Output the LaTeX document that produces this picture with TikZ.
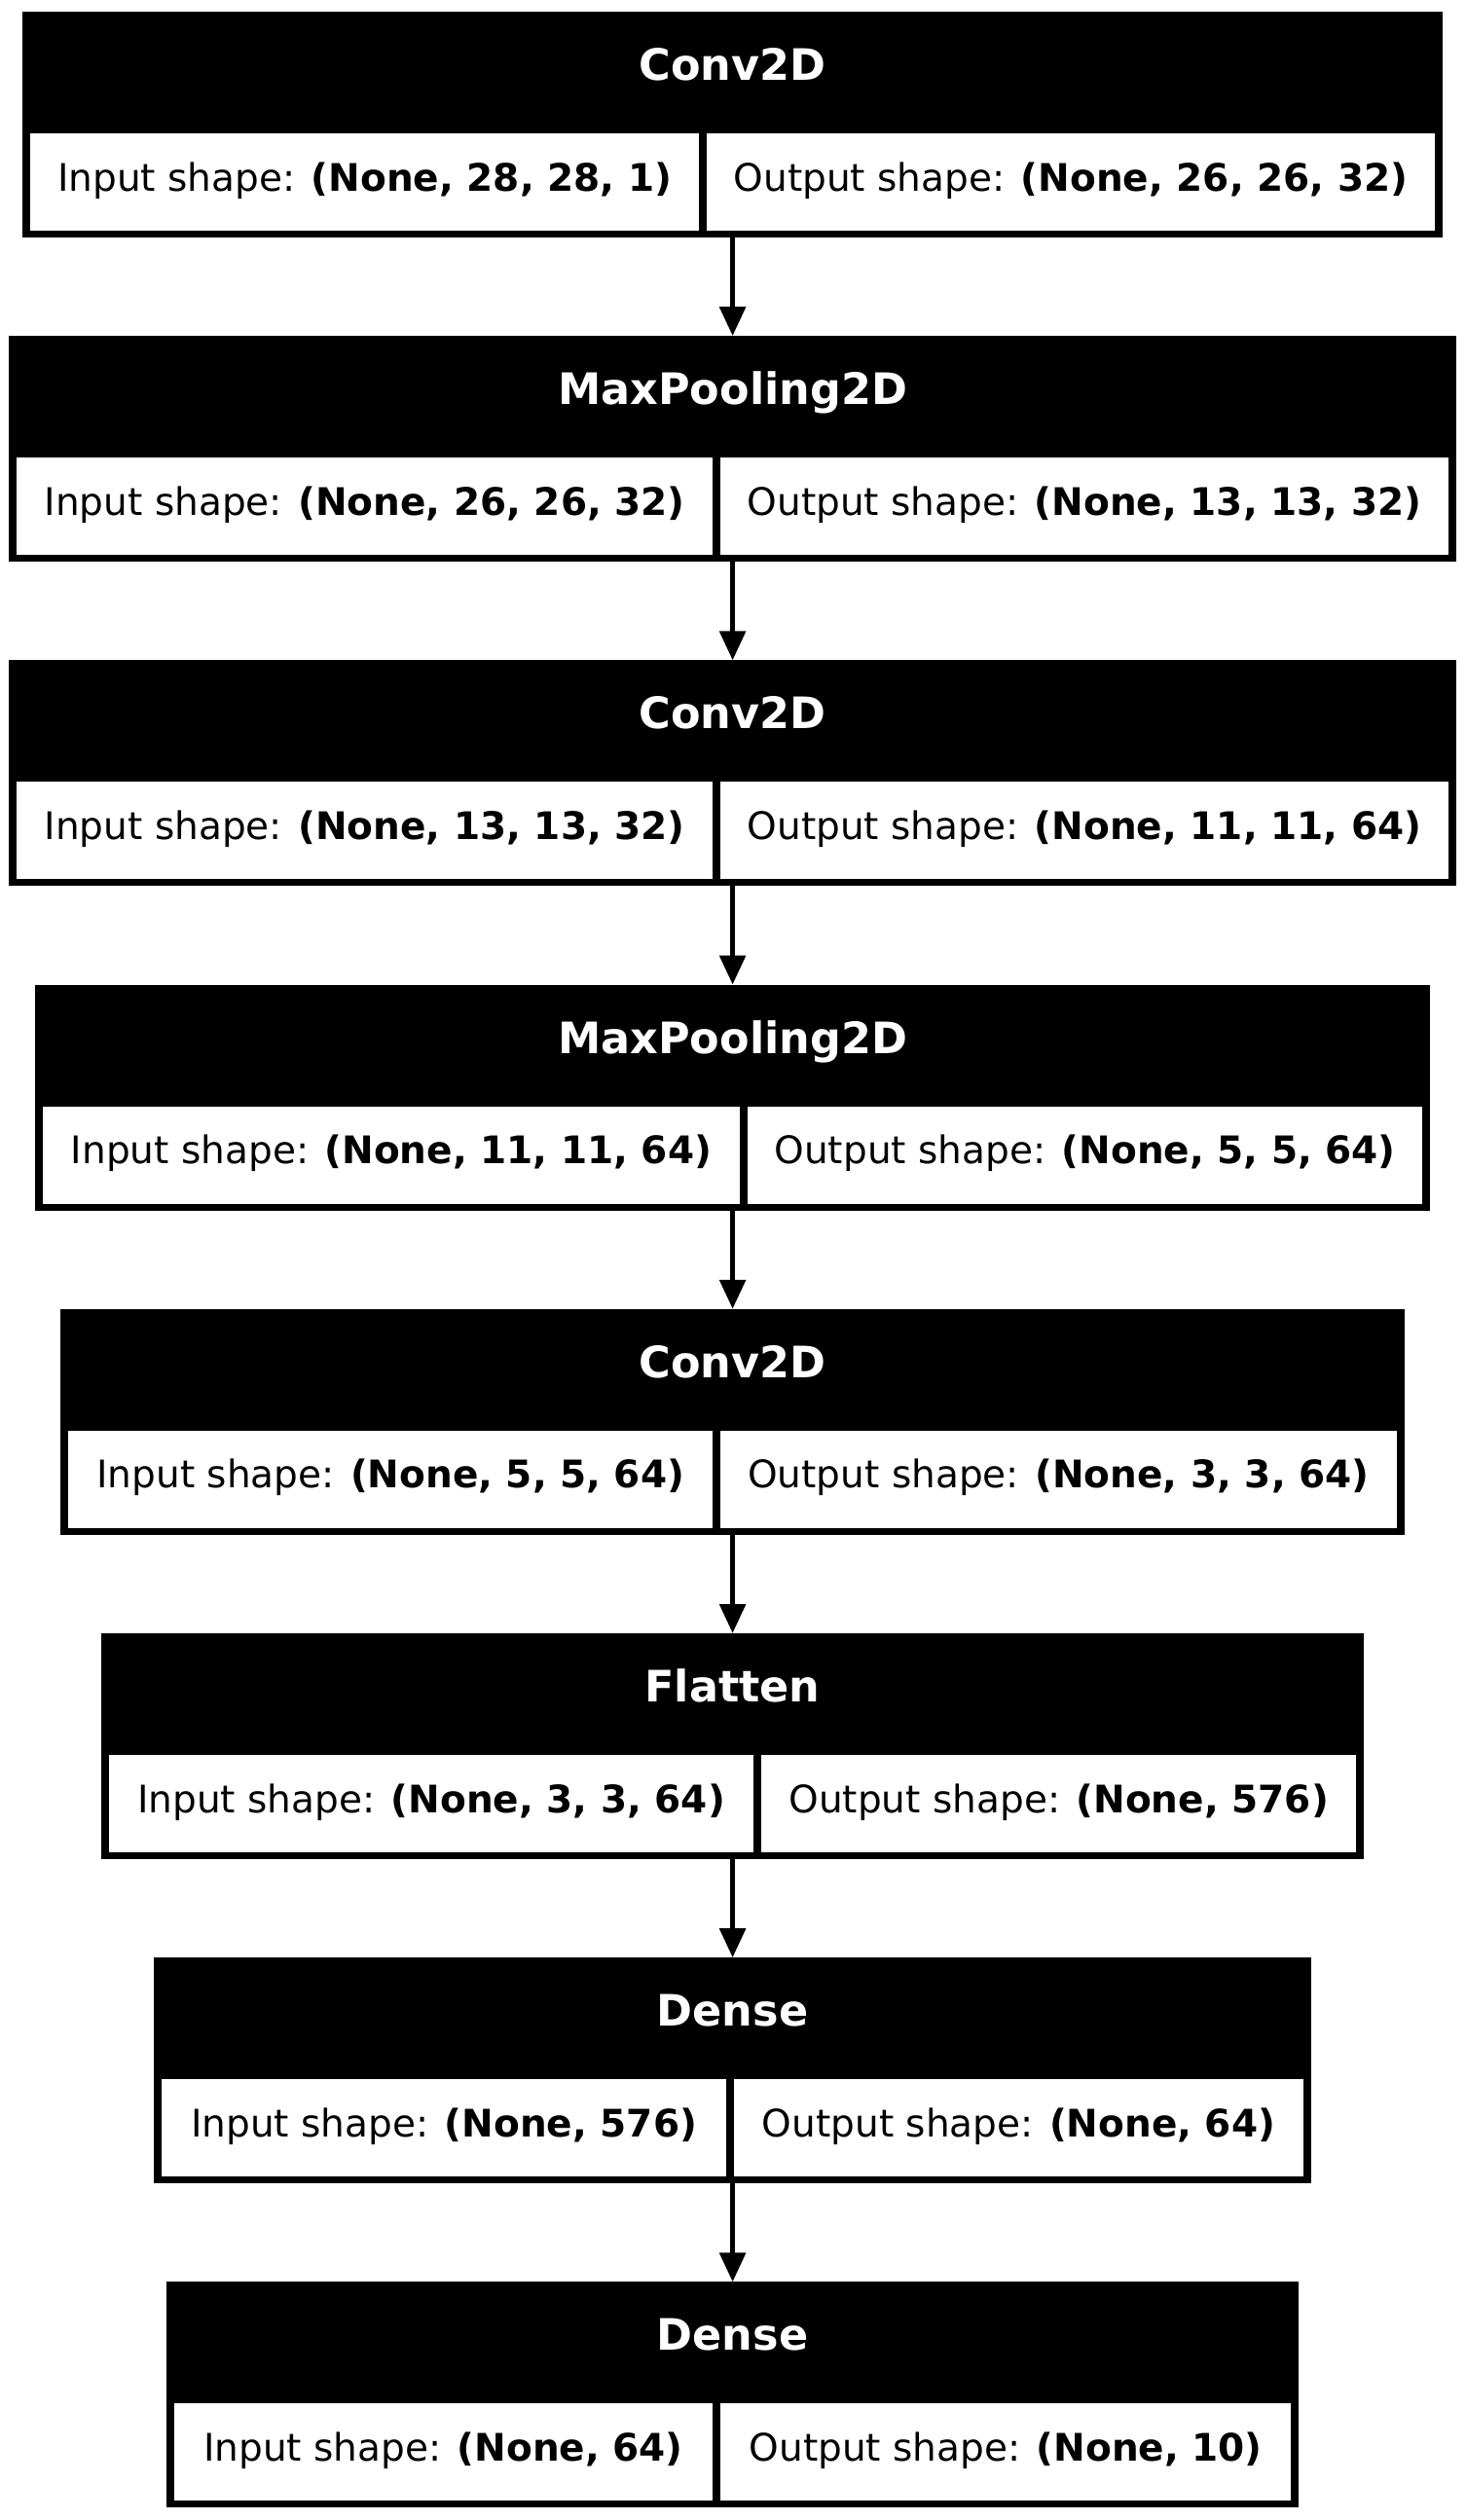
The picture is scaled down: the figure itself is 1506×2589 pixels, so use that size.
\documentclass[tikz,border=0pt]{standalone}
\usepackage{fontspec}
\setmainfont{DejaVu Sans}
\usepackage{xcolor}
\usepackage{tikz}
\usetikzlibrary{arrows.meta, positioning}
\definecolor{LayerInk}{HTML}{000000}
\definecolor{Paper}{HTML}{FFFFFF}
\tikzset{
  layer/.style={fill=LayerInk, draw=none, inner sep=0pt, outer sep=0pt, minimum width=#1, minimum height=232pt},
  headtext/.style={anchor=base, text=Paper, inner sep=0pt, font=\fontsize{44.5pt}{53pt}\selectfont\bfseries},
  cell/.style={fill=Paper, draw=none, inner xsep=0pt, inner ysep=0pt, outer sep=0pt, minimum width=#1,
    text height=59pt, text depth=41pt, text=LayerInk, font=\fontsize{39pt}{47pt}\selectfont},
  incell/.style={cell=#1, anchor=base west},
  outcell/.style={cell=#1, anchor=base east},
  flow/.style={-{Triangle[length=30pt, width=26pt]}, line width=5.7pt, color=LayerInk},
}

\begin{document}
\begin{tikzpicture}[x=1pt, y=1pt]
  \useasboundingbox (0,0) rectangle (1506,-2589);

  \node[layer=1458.8pt] (conv1) at (752.6,-128) {};
  \node[layer=1486.4pt, below=101.2pt of conv1] (pool1) {};
  \node[layer=1486.4pt, below=101.2pt of pool1] (conv2) {};
  \node[layer=1433.4pt, below=101.2pt of conv2] (pool2) {};
  \node[layer=1380.4pt, below=101.2pt of pool2] (conv3) {};
  \node[layer=1297.4pt, below=101.2pt of conv3] (flat) {};
  \node[layer=1188.6pt, below=101.2pt of flat] (dense1) {};
  \node[layer=1163.6pt, below=101.2pt of dense1] (dense2) {};

  \node[headtext] (conv1name) at ([yshift=-70.4pt]conv1.north) {Conv2D};
  \node[incell=686.8pt] (conv1in) at ([xshift=8pt, yshift=48pt]conv1.south west) {Input shape: \textbf{(None, 28, 28, 1)}};
  \node[outcell=748pt] (conv1out) at ([xshift=-8pt, yshift=48pt]conv1.south east) {Output shape: \textbf{(None, 26, 26, 32)}};

  \node[headtext] (pool1name) at ([yshift=-70.4pt]pool1.north) {MaxPooling2D};
  \node[incell=714.6pt] (pool1in) at ([xshift=8pt, yshift=48pt]pool1.south west) {Input shape: \textbf{(None, 26, 26, 32)}};
  \node[outcell=747.8pt] (pool1out) at ([xshift=-8pt, yshift=48pt]pool1.south east) {Output shape: \textbf{(None, 13, 13, 32)}};

  \node[headtext] (conv2name) at ([yshift=-70.4pt]conv2.north) {Conv2D};
  \node[incell=714.6pt] (conv2in) at ([xshift=8pt, yshift=48pt]conv2.south west) {Input shape: \textbf{(None, 13, 13, 32)}};
  \node[outcell=747.8pt] (conv2out) at ([xshift=-8pt, yshift=48pt]conv2.south east) {Output shape: \textbf{(None, 11, 11, 64)}};

  \node[headtext] (pool2name) at ([yshift=-70.4pt]pool2.north) {MaxPooling2D};
  \node[incell=716.1pt] (pool2in) at ([xshift=8pt, yshift=48pt]pool2.south west) {Input shape: \textbf{(None, 11, 11, 64)}};
  \node[outcell=693.3pt] (pool2out) at ([xshift=-8pt, yshift=48pt]pool2.south east) {Output shape: \textbf{(None, 5, 5, 64)}};

  \node[headtext] (conv3name) at ([yshift=-70.4pt]conv3.north) {Conv2D};
  \node[incell=661.6pt] (conv3in) at ([xshift=8pt, yshift=48pt]conv3.south west) {Input shape: \textbf{(None, 5, 5, 64)}};
  \node[outcell=694.8pt] (conv3out) at ([xshift=-8pt, yshift=48pt]conv3.south east) {Output shape: \textbf{(None, 3, 3, 64)}};

  \node[headtext] (flatname) at ([yshift=-70.4pt]flat.north) {Flatten};
  \node[incell=662.1pt] (flatin) at ([xshift=8pt, yshift=48pt]flat.south west) {Input shape: \textbf{(None, 3, 3, 64)}};
  \node[outcell=611.3pt] (flatout) at ([xshift=-8pt, yshift=48pt]flat.south east) {Output shape: \textbf{(None, 576)}};

  \node[headtext] (dense1name) at ([yshift=-70.4pt]dense1.north) {Dense};
  \node[incell=579.7pt] (dense1in) at ([xshift=8pt, yshift=48pt]dense1.south west) {Input shape: \textbf{(None, 576)}};
  \node[outcell=584.9pt] (dense1out) at ([xshift=-8pt, yshift=48pt]dense1.south east) {Output shape: \textbf{(None, 64)}};

  \node[headtext] (dense2name) at ([yshift=-70.4pt]dense2.north) {Dense};
  \node[incell=553.2pt] (dense2in) at ([xshift=8pt, yshift=48pt]dense2.south west) {Input shape: \textbf{(None, 64)}};
  \node[outcell=586.4pt] (dense2out) at ([xshift=-8pt, yshift=48pt]dense2.south east) {Output shape: \textbf{(None, 10)}};

  \draw[flow] (conv1) -- (pool1);
  \draw[flow] (pool1) -- (conv2);
  \draw[flow] (conv2) -- (pool2);
  \draw[flow] (pool2) -- (conv3);
  \draw[flow] (conv3) -- (flat);
  \draw[flow] (flat) -- (dense1);
  \draw[flow] (dense1) -- (dense2);
\end{tikzpicture}
\end{document}
